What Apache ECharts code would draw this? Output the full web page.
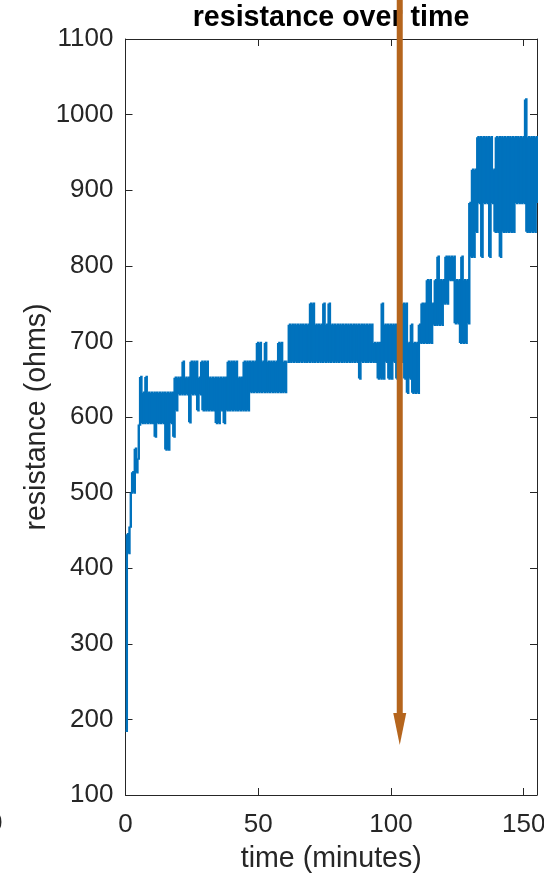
<!DOCTYPE html>
<html><head><meta charset="utf-8">
<script src="https://cdn.jsdelivr.net/npm/echarts@6/dist/echarts.min.js"></script>
<style>html,body{margin:0;padding:0;background:#fff}#c{width:544px;height:877px}</style>
</head><body><div id="c"></div>
<script>
// sampling interval of the readings (minutes)
const sampleStep = 0.5;
// resistance readings (ohms), one every sampleStep minutes starting at t = 0
const resistance = [
  185, 445, 420, 455, 500, 527, 500, 558, 527, 545,
  590, 653, 592, 632, 592, 653, 592, 632, 592, 632,
  592, 632, 574, 632, 592, 632, 592, 632, 592, 632,
  557, 632, 557, 632, 592, 632, 574, 652, 609, 652,
  630, 652, 630, 673, 630, 652, 630, 652, 593, 673,
  630, 673, 630, 673, 609, 652, 630, 673, 609, 673,
  609, 673, 609, 652, 609, 652, 609, 652, 592, 652,
  592, 652, 609, 652, 592, 652, 609, 673, 609, 673,
  609, 673, 609, 673, 609, 652, 609, 652, 609, 673,
  609, 673, 609, 673, 633, 673, 633, 673, 633, 698,
  633, 698, 633, 673, 633, 698, 633, 673, 633, 673,
  633, 673, 633, 673, 633, 698, 633, 698, 633, 673,
  633, 673, 673, 722, 673, 722, 673, 722, 673, 722,
  673, 722, 673, 722, 673, 722, 673, 722, 673, 750,
  673, 750, 673, 722, 673, 722, 673, 722, 673, 750,
  673, 722, 673, 750, 673, 722, 673, 722, 673, 722,
  673, 722, 673, 722, 673, 722, 673, 722, 673, 722,
  673, 722, 673, 722, 673, 722, 651, 722, 673, 722,
  673, 722, 673, 722, 673, 722, 673, 698, 673, 698,
  651, 698, 651, 750, 651, 722, 673, 722, 651, 722,
  651, 722, 673, 722, 651, 722, 651, 698, 673, 750,
  651, 750, 632, 698, 651, 722, 632, 698, 632, 698,
  632, 722, 698, 750, 698, 750, 698, 781, 698, 781,
  698, 750, 722, 781, 722, 812, 722, 781, 722, 781,
  750, 812, 750, 812, 781, 812, 781, 812, 724, 781,
  724, 781, 698, 812, 698, 781, 698, 781, 724, 883,
  812, 927, 812, 927, 845, 970, 883, 970, 812, 970,
  883, 970, 883, 970, 812, 970, 883, 927, 845, 970,
  845, 970, 812, 970, 845, 970, 845, 970, 845, 970,
  845, 970, 845, 970, 883, 970, 883, 970, 883, 970,
  883, 1020, 845, 970, 845, 970, 845, 970, 845, 970,
  883
];
const xTicks = [0, 50, 100, 150];
const yTicks = [100, 200, 300, 400, 500, 600, 700, 800, 900, 1000, 1100];
const xMin = 0, xMax = 155, yMin = 100, yMax = 1100;
const titleText = 'resistance over time';
const xName = 'time (minutes)';
const yName = 'resistance (ohms)';
// annotation arrow: time it marks and the value its tip reaches
const arrowTime = 103.3;
const arrowTipValue = 166;

const FONT = "'Liberation Sans', Arial, Helvetica, sans-serif";
const AX = '#262626';
const BLUE = '#0072BD';
// each step: [t, value, next t, next value] -> drawn as a stair step through the axes' scales
const steps = resistance.slice(0, -1).map((v, i) => [i * sampleStep, v, (i + 1) * sampleStep, resistance[i + 1]]);

const chart = echarts.init(document.getElementById('c'), null, {renderer: 'canvas'});
const baseX = {
  type: 'value', min: xMin, max: xMax, interval: 50,
  axisLine: {show: true, onZero: false, lineStyle: {color: AX, width: 1}},
  axisTick: {show: true, inside: true, length: 7, customValues: xTicks, lineStyle: {color: AX}},
  splitLine: {show: false}
};
const baseY = {
  type: 'value', min: yMin, max: yMax, interval: 100,
  axisLine: {show: true, onZero: false, lineStyle: {color: AX, width: 1}},
  axisTick: {show: true, inside: true, length: 7, customValues: yTicks, lineStyle: {color: AX}},
  splitLine: {show: false}
};
chart.setOption({
  animation: false,
  backgroundColor: '#fff',
  grid: {left: 125.5, right: 7, top: 39, bottom: 82, containLabel: false, outerBoundsMode: 'none'},
  xAxis: [
    Object.assign({}, baseX, {
      position: 'bottom',
      axisLabel: {show: true, customValues: xTicks, margin: 17, fontSize: 26, color: AX, fontFamily: FONT,
                  formatter: v => String(v)},
      name: xName, nameLocation: 'middle', nameGap: 50, nameMoveOverlap: false,
      nameTextStyle: {fontSize: 28.6, color: AX, fontFamily: FONT}
    }),
    Object.assign({}, baseX, {position: 'top', axisLabel: {show: false}})
  ],
  yAxis: [
    Object.assign({}, baseY, {
      position: 'left',
      axisLabel: {show: true, customValues: yTicks, margin: 12, fontSize: 26, color: AX, fontFamily: FONT,
                  formatter: v => String(v)},
      name: yName, nameLocation: 'middle', nameGap: 74, nameRotate: 90, nameMoveOverlap: false,
      nameTextStyle: {fontSize: 28.6, color: AX, fontFamily: FONT}
    }),
    Object.assign({}, baseY, {position: 'right', axisLabel: {show: false}})
  ],
  series: [{
    type: 'custom', data: steps, xAxisIndex: 0, yAxisIndex: 0, clip: true,
    encode: {x: [0, 2], y: [1, 3]},
    renderItem: function (params, api) {
      const p0 = api.coord([api.value(0), api.value(1)]);
      const p1 = api.coord([api.value(2), api.value(1)]);
      const p2 = api.coord([api.value(2), api.value(3)]);
      return {
        type: 'polyline', silent: true,
        shape: {points: [p0, p1, p2]},
        style: {stroke: BLUE, lineWidth: 2.4, fill: null, lineCap: 'butt', lineJoin: 'miter'}
      };
    }
  }]
});

const tip = chart.convertToPixel({xAxisIndex: 0, yAxisIndex: 0}, [arrowTime, arrowTipValue]);
const ax = tip[0], ay = tip[1];
chart.setOption({
  graphic: [
    {type: 'text', x: 331, y: 18, z: 50,
     style: {text: titleText, font: 'bold 28.6px ' + FONT, fill: '#000', align: 'center', verticalAlign: 'middle'}},
    {type: 'text', x: -12, y: 824, z: 50,
     style: {text: '0', font: '26px ' + FONT, fill: AX, align: 'left', verticalAlign: 'middle'}},
    {type: 'line', z: 100, shape: {x1: ax, y1: 0, x2: ax, y2: ay - 30},
     style: {stroke: '#B5651D', lineWidth: 6}},
    {type: 'polygon', z: 100, shape: {points: [[ax - 6.5, ay - 32], [ax + 6.5, ay - 32], [ax, ay]]},
     style: {fill: '#B5651D'}}
  ]
});
</script>
</body></html>
